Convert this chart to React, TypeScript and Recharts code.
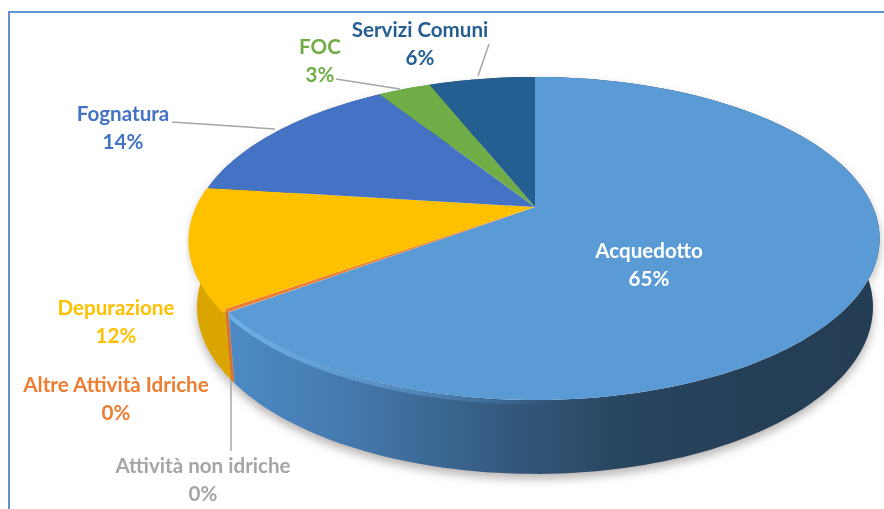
import React from "react";
import { PieChart, Pie, Cell } from "recharts";

const categories = ["Acquedotto", "Attività non idriche", "Altre Attività Idriche", "Depurazione", "Fognatura", "FOC", "Servizi Comuni"];
const shares = [64.8, 0.03, 0.3, 11.9, 14, 3, 6];
const sliceColors = ["#5b9bd5", "#a5a5a5", "#ed7d31", "#ffc000", "#4472c4", "#70ad47", "#255e91"];
const textColors = ["#ffffff", "#a5a5a5", "#ed7d31", "#ffc000", "#4472c4", "#70ad47", "#255e91"];
const wallFills = ["url(#blueWall)", "#8c8c8c", "#d96f28", "#dba500", "#3a62a8", "#5f933c", "#1f4f7b"];

// label layout: [centre x, first baseline y], leader line [x1, y1, x2, y2]
const labelAnchors: number[][] = [[649, 258], [203, 473], [116, 392], [116, 315], [123, 121], [320, 54], [420, 37]];
const leaders: (number[] | null)[] = [null, [231, 380, 231, 451], null, null, [172, 122, 275, 129], [336, 79, 400, 89], [489, 44, 478, 76]];

const data = categories.map((name, i) => ({ name, value: shares[i] }));

// perspective of the tilted disc
const K = 0.195;
const TOP = { sx: 338, sy: 155.4, oy: 0 };
const BOTTOM = { sx: 331.5, sy: 160.6, oy: 67.4 };

function project(cx: number, cy: number, deg: number, f: { sx: number; sy: number; oy: number }) {
  const t = ((90 - deg) * Math.PI) / 180;
  const u = Math.sin(t);
  const v = -Math.cos(t);
  const w = 1 - K * v;
  return [cx + (f.sx * u) / w, cy + f.oy + (f.sy * v) / w];
}

function arc(cx: number, cy: number, a0: number, a1: number, f: typeof TOP) {
  const n = Math.max(2, Math.ceil(Math.abs(a1 - a0) / 1.5));
  const pts: number[][] = [];
  for (let i = 0; i <= n; i++) pts.push(project(cx, cy, a0 + ((a1 - a0) * i) / n, f));
  return pts;
}

const toPath = (pts: number[][]) => pts.map((p, i) => `${i ? "L" : "M"}${p[0].toFixed(2)} ${p[1].toFixed(2)}`).join(" ");

const TopShape = (p: any) => {
  const pts = arc(p.cx, p.cy, p.startAngle, p.endAngle, TOP);
  return <path d={`M${p.cx} ${p.cy} ${toPath(pts).replace("M", "L")} Z`} fill={p.fill} stroke="none" />;
};

const wallPath = (p: any) => {
  const a = arc(p.cx, p.cy, p.startAngle, p.endAngle, TOP);
  const b = arc(p.cx, p.cy, p.endAngle, p.startAngle, BOTTOM);
  return `${toPath(a)} ${toPath(b).replace("M", "L")} Z`;
};

const WallShape = (p: any) => {
  const rim = arc(p.cx, p.cy, p.startAngle, p.endAngle, TOP).map((q) => [q[0], q[1] + 2.5]);
  return (
    <g>
      <path d={wallPath(p)} fill={p.fill} stroke="none" />
      {p.index === 0 ? <path d={toPath(rim)} fill="none" stroke="url(#blueRim)" strokeWidth={4} /> : null}
      {p.index === 3 ? <path d={toPath(rim)} fill="none" stroke="#ffc000" strokeWidth={4} /> : null}
    </g>
  );
};

const ShadowShape = (p: any) => (
  <path d={wallPath({ ...p, cy: p.cy + 5 })} fill="#6f6a66" fillOpacity={0.5} stroke="none" filter="url(#softShadow)" />
);

const SliceLabel = (p: any) => {
  const i = p.index;
  const [x, y] = labelAnchors[i];
  const line = leaders[i];
  return (
    <g>
      {line ? <line x1={line[0]} y1={line[1]} x2={line[2]} y2={line[3]} stroke="#a6a6a6" strokeWidth={1.5} /> : null}
      <text x={x} y={y} textAnchor="middle" fill={textColors[i]} fontFamily="Lato" fontWeight={700} fontSize={20.6}>
        <tspan x={x}>{categories[i]}</tspan>
        <tspan x={x} dy={27.5}>{`${Math.round(p.percent * 100)}%`}</tspan>
      </text>
    </g>
  );
};

const pieGeom = { dataKey: "value", nameKey: "name", cx: 535, cy: 207, outerRadius: 130, startAngle: 90, endAngle: -270, stroke: "none", isAnimationActive: false };

export default function App() {
  return (
    <div style={{ position: "absolute", left: 0, top: 0, width: 884, height: 509, overflow: "hidden", background: "#fff" }}>
      <div style={{ position: "absolute", left: 8, top: 11, width: 900, height: 520, border: "2px solid #5f93d3", filter: "blur(0.4px)" }} />
      <div style={{ position: "absolute", left: 0, top: 0, filter: "blur(0.6px)" }}>
        <PieChart width={884} height={509} margin={{ top: 0, right: 0, bottom: 0, left: 0 }}>
          <defs>
            <linearGradient id="blueWall" gradientUnits="userSpaceOnUse" x1={228} y1={0} x2={878} y2={0}>
              <stop offset="0" stopColor="#4d8ac6" />
              <stop offset="0.2" stopColor="#4478ab" />
              <stop offset="0.42" stopColor="#345a80" />
              <stop offset="0.6" stopColor="#294660" />
              <stop offset="0.8" stopColor="#253f57" />
              <stop offset="1" stopColor="#243d54" />
            </linearGradient>
            <linearGradient id="blueRim" gradientUnits="userSpaceOnUse" x1={228} y1={0} x2={560} y2={0}>
              <stop offset="0" stopColor="#6fb0ea" />
              <stop offset="0.6" stopColor="#6aa6dc" stopOpacity={0.4} />
              <stop offset="1" stopColor="#5b9bd5" stopOpacity={0} />
            </linearGradient>
            <filter id="softShadow" x="-10%" y="-10%" width="120%" height="120%">
              <feGaussianBlur stdDeviation={5} />
            </filter>
          </defs>
          <Pie data={data} {...pieGeom} shape={ShadowShape} />
          <Pie data={data} {...pieGeom} shape={WallShape}>
            {data.map((d, i) => <Cell key={d.name} fill={wallFills[i]} />)}
          </Pie>
          <Pie data={data} {...pieGeom} shape={TopShape} label={SliceLabel} labelLine={false}>
            {data.map((d, i) => <Cell key={d.name} fill={sliceColors[i]} />)}
          </Pie>
        </PieChart>
      </div>
    </div>
  );
}
